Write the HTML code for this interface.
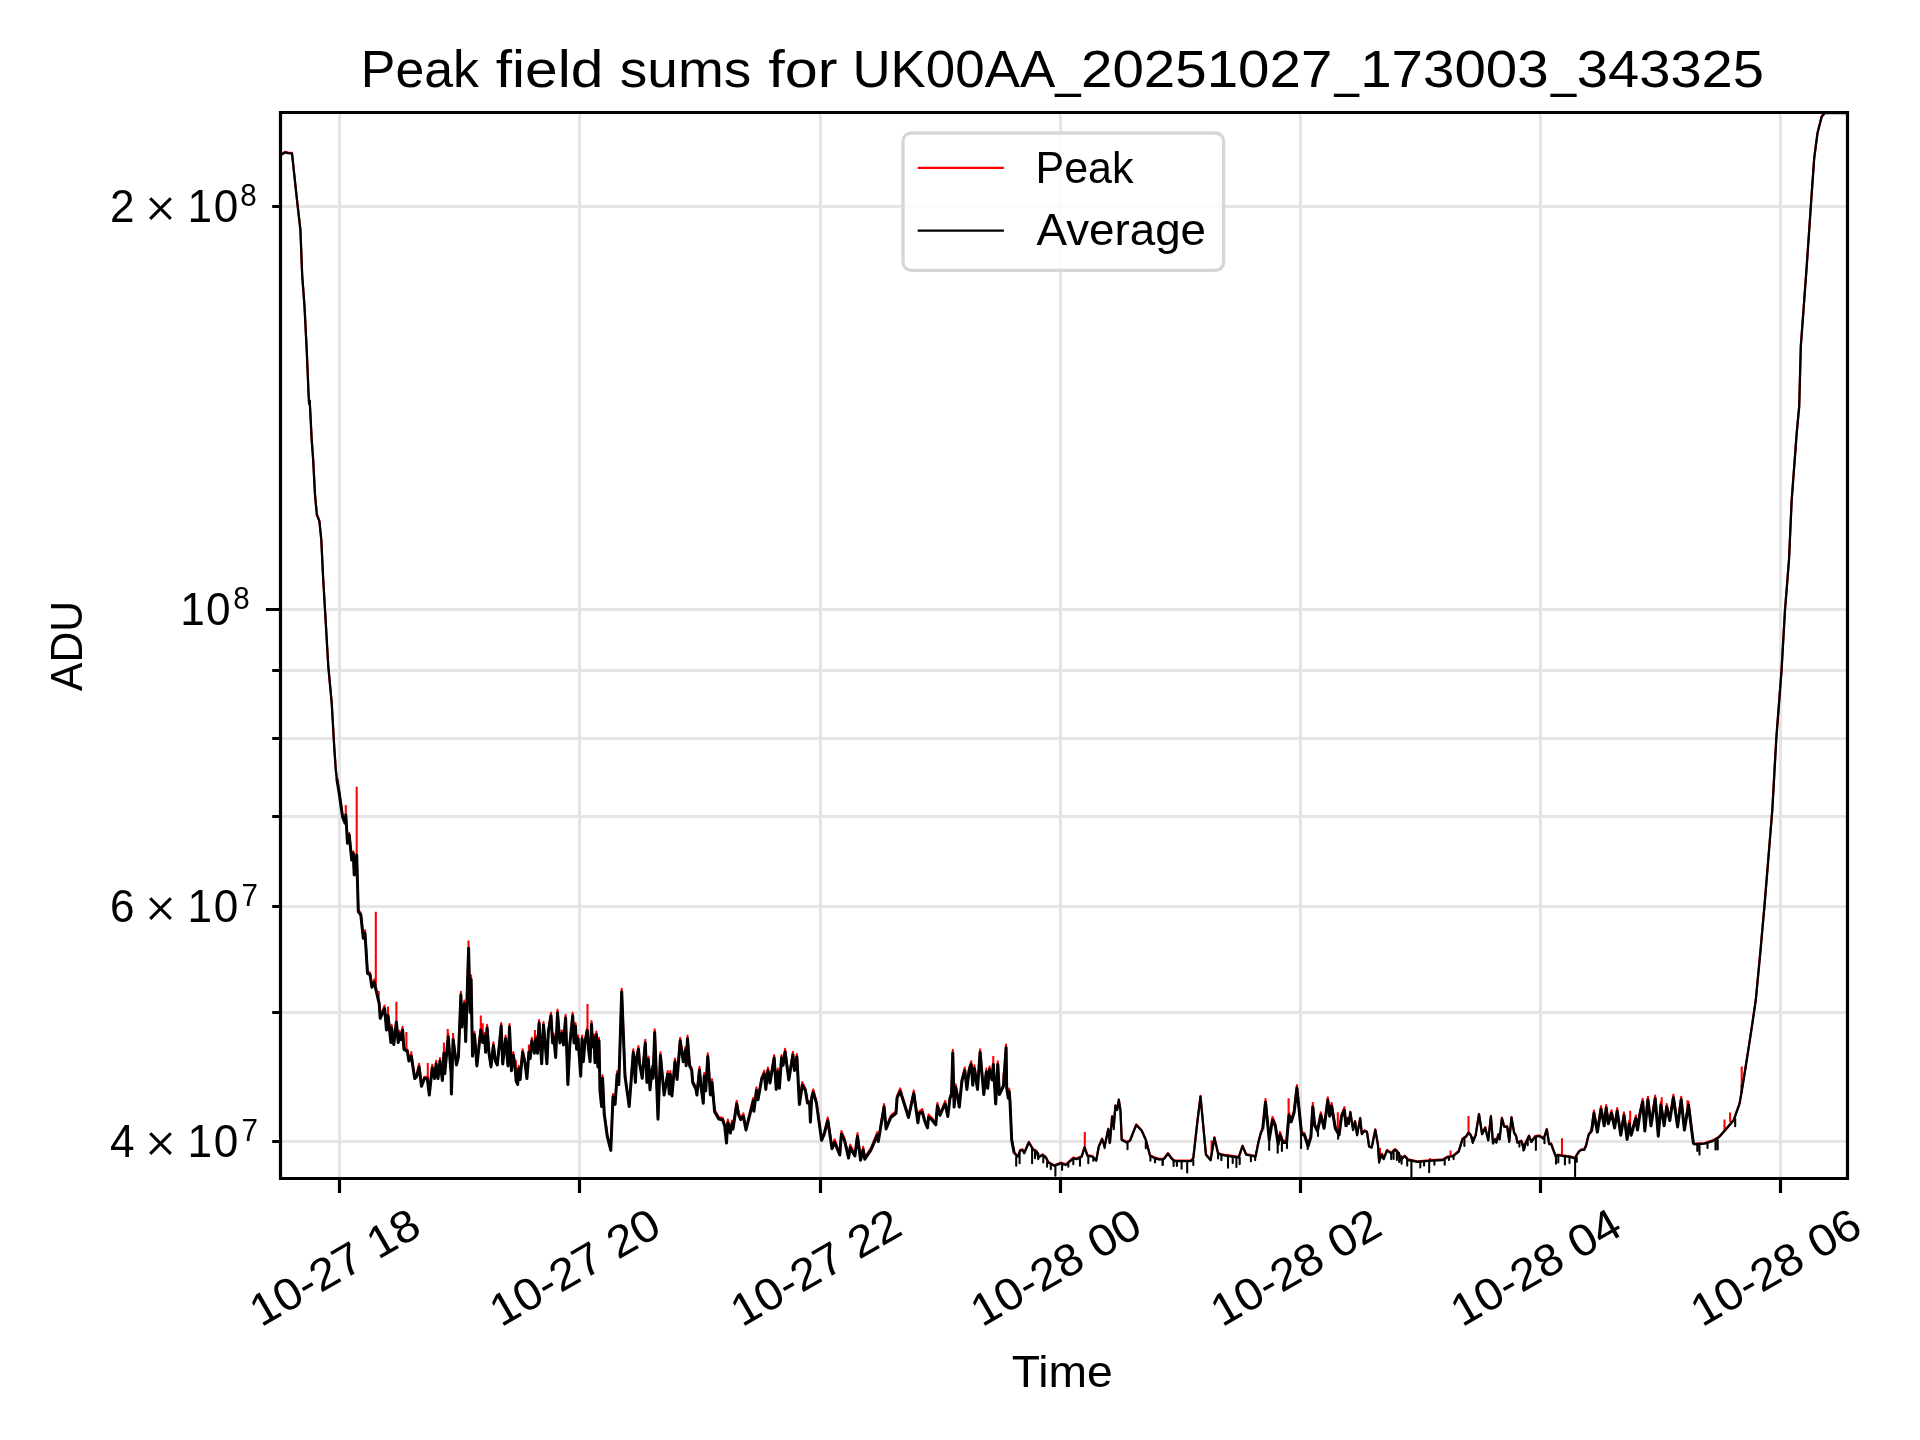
<!DOCTYPE html><html><head><meta charset="utf-8"><style>html,body{margin:0;padding:0;background:#fff;}svg{display:block;will-change:transform;}text{font-family:"Liberation Sans", sans-serif;fill:#000;}</style></head><body>
<svg width="1920" height="1440" viewBox="0 0 1920 1440">
<rect x="0" y="0" width="1920" height="1440" fill="#fff"/>
<path d="M339.50 112.5V1178.5M579.50 112.5V1178.5M820.50 112.5V1178.5M1060.50 112.5V1178.5M1300.50 112.5V1178.5M1540.50 112.5V1178.5M1780.50 112.5V1178.5M280.5 206.50H1847.5M280.5 609.50H1847.5M280.5 670.50H1847.5M280.5 738.50H1847.5M280.5 816.50H1847.5M280.5 906.50H1847.5M280.5 1012.50H1847.5M280.5 1141.50H1847.5" stroke="#e5e5e5" stroke-width="3.1" fill="none"/>
<path d="M339.50 1178.5v14.6M579.50 1178.5v14.6M820.50 1178.5v14.6M1060.50 1178.5v14.6M1300.50 1178.5v14.6M1540.50 1178.5v14.6M1780.50 1178.5v14.6M280.5 609.50h-14.6M280.5 206.50h-8.3M280.5 670.50h-8.3M280.5 738.50h-8.3M280.5 816.50h-8.3M280.5 906.50h-8.3M280.5 1012.50h-8.3M280.5 1141.50h-8.3" stroke="#000" stroke-width="3.2" fill="none"/>
<defs><clipPath id="ax"><rect x="280.5" y="112.5" width="1567.0" height="1066.0"/></clipPath></defs>
<g clip-path="url(#ax)">
<path d="M280.8 153.9 L283.0 153.1 L285.0 151.8 L288.0 152.5 L292.0 152.9 L297.3 202.3 L300.4 229.3 L302.2 275.1 L304.5 305.7 L306.8 351.5 L308.6 394.3 L309.1 403.3 L309.7 400.3 L311.7 439.3 L313.1 458.1 L315.0 494.3 L316.9 514.3 L319.4 520.6 L321.3 539.3 L323.1 576.8 L325.6 619.3 L328.3 666.0 L331.7 702.3 L334.2 746.0 L335.8 769.3 L336.7 776.4 L339.2 791.4 L342.5 814.8 L345.0 821.4 L345.8 813.1 L347.5 841.4 L349.2 833.1 L351.7 858.1 L353.3 851.4 L354.2 873.1 L356.7 853.1 L358.3 909.8 L360.8 913.1 L363.3 936.4 L365.0 930.2 L367.5 971.4 L370.0 972.7 L371.9 985.3 L374.4 979.3 L375.8 987.3 L379.2 1001.8 L380.2 1016.4 L384.6 1005.5 L386.5 1028.1 L388.0 1012.3 L390.9 1040.7 L391.6 1024.9 L393.8 1042.6 L396.4 1019.1 L398.2 1040.7 L399.6 1030.8 L401.1 1037.8 L402.6 1026.9 L404.0 1047.5 L407.4 1049.5 L408.9 1059.2 L411.3 1053.1 L414.7 1076.7 L416.6 1074.7 L419.1 1063.8 L421.5 1084.4 L424.4 1076.7 L427.3 1076.7 L429.3 1093.2 L432.2 1064.8 L434.6 1076.7 L436.1 1060.9 L438.0 1076.7 L440.0 1058.0 L442.4 1078.6 L443.9 1050.2 L444.8 1071.8 L448.2 1033.7 L451.1 1071.8 L451.4 1092.2 L453.1 1036.6 L456.5 1063.1 L458.4 1055.3 L460.9 991.9 L461.8 1025.2 L464.3 1000.6 L465.7 1039.7 L468.6 945.2 L470.1 1010.6 L471.1 976.3 L472.5 1054.3 L474.5 1031.7 L476.9 1064.0 L480.8 1026.9 L482.7 1040.7 L484.7 1032.7 L485.6 1050.4 L487.1 1024.9 L489.0 1051.4 L491.0 1065.0 L493.4 1042.4 L495.4 1059.2 L497.3 1063.1 L499.3 1043.6 L501.2 1023.0 L502.7 1062.1 L505.6 1035.6 L508.0 1064.0 L509.5 1024.0 L511.4 1068.9 L513.3 1052.1 L514.8 1063.1 L516.3 1079.6 L517.7 1082.5 L518.7 1065.7 L520.1 1077.6 L522.6 1049.2 L525.0 1061.1 L526.9 1076.7 L528.9 1050.4 L529.2 1049.2 L530.2 1056.6 L531.8 1037.7 L534.4 1051.4 L535.9 1035.6 L537.5 1051.4 L539.1 1020.0 L541.7 1061.8 L543.5 1022.1 L546.9 1061.8 L548.4 1029.6 L551.0 1012.7 L552.6 1041.0 L553.6 1033.6 L555.7 1055.6 L557.5 1009.6 L559.9 1041.0 L562.0 1030.4 L563.5 1043.1 L565.6 1014.8 L567.9 1082.7 L569.8 1043.1 L572.7 1012.7 L574.0 1041.0 L575.5 1023.1 L576.6 1047.3 L578.1 1035.6 L580.7 1074.3 L582.1 1035.6 L583.3 1059.8 L584.9 1041.0 L587.3 1027.3 L588.5 1047.3 L590.1 1059.8 L591.5 1021.1 L592.7 1045.2 L594.0 1034.6 L595.0 1060.8 L596.4 1031.5 L597.9 1065.0 L599.0 1037.7 L600.0 1088.9 L601.6 1104.6 L602.6 1075.2 L604.2 1111.8 L607.3 1134.8 L610.8 1148.5 L613.0 1094.0 L615.1 1102.5 L617.2 1071.1 L618.8 1082.7 L621.7 988.8 L625.0 1074.3 L629.2 1104.6 L633.3 1049.2 L635.4 1080.6 L636.5 1056.6 L638.5 1046.1 L639.6 1061.8 L642.2 1076.4 L645.3 1039.8 L646.9 1080.6 L648.4 1056.5 L650.0 1087.9 L652.1 1065.9 L653.1 1076.4 L654.7 1029.4 L658.0 1117.3 L660.4 1052.3 L664.1 1093.1 L667.7 1071.1 L669.3 1092.1 L670.3 1071.1 L671.9 1094.1 L675.0 1058.6 L677.1 1077.5 L680.2 1037.7 L683.3 1059.8 L685.4 1047.1 L686.2 1063.9 L687.5 1035.6 L689.6 1063.9 L691.7 1068.1 L692.7 1080.6 L695.8 1086.8 L696.9 1093.1 L699.5 1066.9 L701.0 1084.8 L703.3 1101.4 L704.2 1073.1 L705.7 1088.9 L707.8 1053.4 L710.4 1093.1 L712.0 1079.4 L714.6 1109.8 L718.8 1117.1 L722.9 1118.1 L723.1 1119.8 L724.7 1123.9 L726.5 1141.1 L727.8 1119.6 L730.4 1131.2 L732.0 1120.6 L733.0 1127.1 L736.7 1100.9 L738.8 1113.5 L740.8 1117.7 L743.4 1113.4 L746.0 1128.1 L753.3 1097.7 L753.9 1109.3 L756.5 1087.3 L758.0 1097.9 L761.7 1077.1 L764.3 1070.6 L765.8 1087.5 L767.9 1067.5 L770.0 1081.2 L774.2 1055.0 L776.2 1087.5 L777.8 1068.6 L779.4 1086.4 L781.5 1055.0 L783.0 1063.5 L785.1 1048.8 L788.8 1078.1 L792.9 1051.9 L794.5 1068.7 L796.9 1054.0 L799.4 1102.6 L802.3 1082.1 L805.4 1088.5 L807.5 1101.0 L809.6 1101.0 L810.4 1120.3 L811.7 1095.8 L813.2 1089.4 L816.4 1101.0 L821.6 1138.5 L824.2 1132.3 L827.8 1117.5 L832.0 1146.8 L834.6 1139.4 L839.8 1153.1 L841.4 1131.1 L844.5 1138.5 L848.6 1156.2 L850.2 1144.6 L854.9 1154.1 L857.5 1133.1 L860.6 1158.3 L863.2 1146.7 L864.8 1157.3 L871.0 1147.9 L877.3 1132.1 L878.3 1139.6 L884.1 1104.0 L886.1 1127.1 L890.8 1115.6 L896.0 1111.4 L897.1 1095.8 L900.2 1088.4 L902.3 1095.8 L908.5 1115.6 L913.8 1090.4 L917.9 1120.8 L919.2 1111.4 L922.3 1109.2 L924.9 1119.8 L927.5 1126.0 L928.5 1114.4 L931.7 1117.7 L935.8 1122.9 L937.4 1102.9 L940.0 1113.5 L942.6 1107.3 L945.2 1100.9 L947.8 1114.6 L949.9 1096.8 L951.5 1092.7 L952.8 1049.8 L954.1 1105.2 L955.6 1084.2 L957.2 1092.7 L959.3 1105.2 L961.9 1079.1 L964.8 1067.5 L966.9 1087.5 L969.2 1067.7 L971.2 1061.3 L972.8 1083.3 L974.4 1065.4 L977.5 1087.5 L980.1 1049.3 L983.8 1092.7 L986.4 1068.6 L987.7 1086.4 L989.5 1066.5 L992.1 1078.1 L993.3 1061.3 L995.7 1102.1 L997.8 1061.3 L999.4 1092.7 L1003.5 1084.3 L1006.1 1044.6 L1006.7 1086.4 L1008.3 1096.4 L1009.2 1088.6 L1010.0 1099.8 L1011.7 1138.1 L1014.2 1152.6 L1018.3 1156.0 L1020.0 1150.1 L1022.5 1149.3 L1024.2 1152.6 L1028.8 1141.8 L1033.3 1149.3 L1036.7 1151.0 L1038.3 1156.8 L1042.5 1154.3 L1045.8 1156.8 L1048.3 1161.8 L1054.2 1165.1 L1060.8 1162.6 L1065.8 1164.3 L1073.3 1157.6 L1076.7 1158.5 L1081.7 1156.0 L1084.6 1146.8 L1087.5 1155.1 L1092.5 1156.0 L1096.2 1160.1 L1098.8 1146.0 L1102.1 1138.5 L1104.6 1146.0 L1108.3 1128.5 L1110.0 1141.8 L1112.1 1116.0 L1113.8 1126.0 L1115.4 1105.1 L1117.1 1109.3 L1118.8 1099.3 L1120.4 1109.3 L1121.7 1139.3 L1126.7 1141.8 L1130.0 1140.1 L1136.2 1124.3 L1141.7 1130.1 L1145.8 1139.3 L1150.0 1155.1 L1155.0 1157.6 L1159.9 1158.9 L1160.0 1158.7 L1163.7 1158.7 L1168.0 1153.0 L1172.2 1158.7 L1175.0 1160.5 L1190.9 1160.5 L1193.3 1157.7 L1197.5 1120.2 L1200.5 1095.9 L1204.1 1134.3 L1205.9 1154.0 L1210.6 1159.6 L1214.4 1137.1 L1218.1 1153.0 L1220.9 1154.0 L1225.6 1154.9 L1238.7 1156.8 L1242.5 1145.5 L1246.2 1154.0 L1255.6 1155.9 L1258.4 1141.8 L1260.8 1132.4 L1262.7 1127.5 L1265.5 1099.1 L1269.2 1137.8 L1272.5 1116.9 L1275.3 1123.7 L1278.1 1142.5 L1280.0 1131.9 L1282.8 1140.6 L1286.6 1140.6 L1288.9 1112.2 L1291.2 1120.0 L1294.1 1110.6 L1296.9 1085.0 L1301.6 1132.2 L1304.4 1133.1 L1308.1 1144.3 L1310.9 1135.0 L1312.8 1103.8 L1314.7 1123.7 L1317.5 1129.3 L1320.8 1112.2 L1324.1 1126.5 L1327.8 1097.2 L1329.7 1114.3 L1331.6 1102.8 L1335.3 1126.5 L1339.1 1133.1 L1341.5 1114.6 L1344.4 1107.1 L1346.1 1126.2 L1347.7 1117.8 L1348.8 1123.0 L1350.3 1111.6 L1353.1 1129.3 L1355.0 1121.0 L1357.1 1134.5 L1360.2 1117.8 L1361.8 1133.5 L1364.4 1130.3 L1367.0 1131.4 L1369.1 1146.0 L1371.7 1147.0 L1375.3 1129.3 L1377.9 1143.9 L1378.1 1146.2 L1379.1 1161.2 L1381.9 1153.7 L1383.7 1158.4 L1387.0 1149.9 L1391.2 1152.7 L1395.0 1149.0 L1398.7 1152.7 L1400.6 1159.3 L1404.8 1155.5 L1408.1 1159.3 L1417.5 1161.2 L1428.7 1160.2 L1442.8 1159.3 L1447.5 1156.5 L1453.1 1155.5 L1458.7 1150.9 L1462.5 1138.7 L1466.2 1135.9 L1468.6 1132.1 L1470.9 1134.9 L1472.8 1141.5 L1475.6 1134.9 L1479.0 1113.7 L1482.1 1133.5 L1485.2 1127.2 L1488.3 1139.7 L1490.9 1115.8 L1493.0 1142.8 L1495.0 1138.7 L1496.3 1142.0 L1498.3 1134.0 L1499.6 1138.7 L1501.9 1117.6 L1504.2 1126.1 L1507.2 1126.1 L1509.2 1140.6 L1511.5 1116.9 L1514.1 1132.1 L1516.1 1135.4 L1517.4 1142.0 L1521.4 1140.6 L1524.0 1149.2 L1525.3 1143.3 L1529.0 1135.4 L1531.3 1141.3 L1535.2 1136.0 L1539.2 1135.4 L1543.8 1138.0 L1546.8 1128.8 L1549.1 1143.3 L1551.1 1143.3 L1555.7 1155.8 L1557.7 1154.5 L1562.3 1155.2 L1570.9 1156.5 L1574.8 1157.8 L1578.8 1151.2 L1581.4 1149.2 L1584.1 1149.2 L1586.0 1145.3 L1588.7 1134.0 L1591.6 1129.6 L1593.9 1110.5 L1597.4 1130.2 L1601.0 1106.1 L1604.2 1123.9 L1606.2 1105.0 L1608.3 1121.8 L1611.5 1110.2 L1614.6 1126.0 L1617.2 1108.1 L1620.8 1133.3 L1624.0 1112.3 L1627.1 1137.5 L1629.2 1120.6 L1631.2 1133.3 L1635.9 1115.4 L1637.5 1128.1 L1640.1 1111.4 L1642.7 1098.8 L1644.8 1129.1 L1647.9 1096.7 L1651.0 1123.9 L1655.2 1095.6 L1658.3 1134.3 L1660.9 1101.9 L1664.1 1123.9 L1666.7 1104.0 L1669.8 1118.7 L1673.4 1094.6 L1677.6 1125.0 L1681.2 1096.7 L1684.4 1128.1 L1688.5 1101.9 L1691.5 1127.2 L1693.6 1143.7 L1698.7 1143.3 L1704.6 1143.0 L1713.3 1140.1 L1719.2 1136.4 L1725.0 1129.9 L1733.7 1119.6 L1739.6 1102.9 L1742.5 1086.1 L1746.9 1058.4 L1751.2 1030.7 L1755.8 999.3 L1760.3 952.1 L1764.4 906.2 L1768.6 854.9 L1772.3 809.3 L1776.3 738.1 L1781.5 670.4 L1785.0 609.6 L1789.0 559.3 L1791.7 499.3 L1796.7 432.6 L1799.2 406.0 L1800.8 346.0 L1806.7 266.0 L1810.8 206.0 L1814.2 157.6 L1817.5 132.6 L1821.7 116.0 L1825.0 112.3 L1829.0 112.3 L1850.0 112.3M345.8 805.0V818.0M356.7 786.7V855.0M375.8 911.7V985.0M396.4 1001.8V1022.0M406.4 1031.9V1049.0M427.8 1063.0V1078.0M468.5 940.4V950.0M587.5 1003.9V1030.0M534.9 1029.9V1045.0M1084.8 1132.1V1148.0M993.3 1056.0V1065.0M1003.5 1072.7V1085.0M1288.6 1098.2V1115.0M1211.6 1140.4V1155.0M1468.5 1116.0V1135.0M1312.8 1101.9V1112.0M1337.8 1112.3V1132.0M1450.6 1150.6V1157.0M1380.0 1148.0V1160.0M1562.0 1138.3V1155.0M1630.2 1110.7V1125.0M1661.7 1097.2V1110.0M1687.5 1100.3V1108.0M1724.5 1119.6V1130.0M1730.1 1112.6V1122.0M1741.7 1066.6V1090.0M388.0 1006.6V1015.0M480.8 1015.4V1030.0M482.7 1023.2V1040.0M528.9 1044.5V1052.0M447.7 1029.0V1037.0M453.1 1032.9V1040.0M443.9 1042.6V1053.0M515.8 1060.1V1081.0M471.1 974.6V980.0M411.3 1051.3V1056.0M378.7 991.0V1000.0M1430.2 1158.0V1161.0" stroke="#ff0000" stroke-width="2.08" fill="none" stroke-linejoin="round"/>
<path d="M280.8 154.6 L283.0 153.8 L285.0 152.5 L288.0 153.2 L292.0 153.6 L297.3 203.0 L300.4 230.0 L302.2 275.8 L304.5 306.4 L306.8 352.2 L308.6 395.0 L309.1 404.0 L309.7 401.0 L311.7 440.0 L313.1 458.8 L315.0 495.0 L316.9 515.0 L319.4 521.3 L321.3 540.0 L323.1 577.5 L325.6 620.0 L328.3 666.7 L331.7 703.0 L334.2 746.7 L335.8 770.0 L336.7 778.3" stroke="#000" stroke-width="2.3" fill="none" stroke-linejoin="round"/>
<path d="M336.7 778.3 L339.2 793.3 L342.5 816.7 L345.0 823.3 L345.8 815.0 L347.5 843.3 L349.2 835.0 L351.7 860.0 L353.3 853.3 L354.2 875.0 L356.7 855.0 L358.3 911.7 L360.8 915.0 L363.3 938.3 L365.0 933.3 L367.5 973.3 L370.0 974.6 L371.9 987.2 L374.4 982.4 L375.8 989.2 L379.2 1003.7 L380.2 1018.3 L384.6 1008.6 L386.5 1030.0 L388.0 1015.4 L390.9 1042.6 L391.6 1028.0 L393.8 1044.5 L396.4 1022.2 L398.2 1042.6 L399.6 1033.9 L401.1 1039.7 L402.6 1030.0 L404.0 1049.4 L407.4 1051.4 L408.9 1061.1 L411.3 1056.2 L414.7 1078.6 L416.6 1076.6 L419.1 1066.9 L421.5 1086.3 L424.4 1078.6 L427.3 1078.6 L429.3 1095.1 L432.2 1067.9 L434.6 1078.6 L436.1 1064.0 L438.0 1078.6 L440.0 1061.1 L442.4 1080.5 L443.9 1053.3 L444.8 1073.7 L448.2 1036.8 L451.1 1073.7 L451.4 1094.1 L453.1 1039.7 L456.5 1065.0 L458.4 1057.2 L460.9 995.0 L461.8 1027.1 L464.3 1003.7 L465.7 1041.6 L468.6 948.3 L470.1 1012.5 L471.1 979.4 L472.5 1056.2 L474.5 1034.8 L476.9 1065.9 L480.8 1030.0 L482.7 1042.6 L484.7 1035.8 L485.6 1052.3 L487.1 1028.0 L489.0 1053.3 L491.0 1066.9 L493.4 1045.5 L495.4 1061.1 L497.3 1065.0 L499.3 1045.5 L501.2 1026.1 L502.7 1064.0 L505.6 1038.7 L508.0 1065.9 L509.5 1027.1 L511.4 1070.8 L513.3 1055.2 L514.8 1065.0 L516.3 1081.5 L517.7 1084.4 L518.7 1068.8 L520.1 1079.5 L522.6 1052.3 L525.0 1063.0 L526.9 1078.6 L528.9 1052.3 L529.2 1052.3 L530.2 1058.5 L531.8 1040.8 L534.4 1053.3 L535.9 1038.8 L537.5 1053.3 L539.1 1023.1 L541.7 1063.8 L543.5 1025.2 L546.9 1063.8 L548.4 1031.5 L551.0 1015.8 L552.6 1042.9 L553.6 1036.7 L555.7 1057.5 L557.5 1012.7 L559.9 1042.9 L562.0 1033.5 L563.5 1045.0 L565.6 1017.9 L567.9 1084.6 L569.8 1045.0 L572.7 1015.8 L574.0 1042.9 L575.5 1026.2 L576.6 1049.2 L578.1 1038.8 L580.7 1076.2 L582.1 1038.8 L583.3 1061.7 L584.9 1042.9 L587.3 1030.4 L588.5 1049.2 L590.1 1061.7 L591.5 1024.2 L592.7 1047.1 L594.0 1037.7 L595.0 1062.7 L596.4 1034.6 L597.9 1066.9 L599.0 1040.8 L600.0 1090.8 L601.6 1106.5 L602.6 1078.3 L604.2 1113.8 L607.3 1136.7 L610.8 1150.4 L613.0 1097.1 L615.1 1104.4 L617.2 1074.2 L618.8 1084.6 L621.7 991.9 L625.0 1076.2 L629.2 1106.5 L633.3 1052.3 L635.4 1082.5 L636.5 1058.5 L638.5 1049.2 L639.6 1063.8 L642.2 1078.3 L645.3 1042.9 L646.9 1082.5 L648.4 1059.6 L650.0 1089.8 L652.1 1069.0 L653.1 1078.3 L654.7 1032.5 L658.0 1119.2 L660.4 1055.4 L664.1 1095.0 L667.7 1074.2 L669.3 1094.0 L670.3 1074.2 L671.9 1096.0 L675.0 1061.7 L677.1 1079.4 L680.2 1040.8 L683.3 1061.7 L685.4 1050.2 L686.2 1065.8 L687.5 1038.8 L689.6 1065.8 L691.7 1070.0 L692.7 1082.5 L695.8 1088.8 L696.9 1095.0 L699.5 1070.0 L701.0 1086.7 L703.3 1103.3 L704.2 1076.2 L705.7 1090.8 L707.8 1056.5 L710.4 1095.0 L712.0 1082.5 L714.6 1111.7 L718.8 1119.0 L722.9 1120.0 L723.1 1121.7 L724.7 1125.8 L726.5 1143.0 L727.8 1122.7 L730.4 1133.1 L732.0 1123.8 L733.0 1129.0 L736.7 1104.0 L738.8 1115.4 L740.8 1119.6 L743.4 1116.5 L746.0 1130.0 L753.3 1100.8 L753.9 1111.2 L756.5 1090.4 L758.0 1099.8 L761.7 1079.0 L764.3 1073.8 L765.8 1089.4 L767.9 1070.6 L770.0 1083.1 L774.2 1058.1 L776.2 1089.4 L777.8 1071.7 L779.4 1088.3 L781.5 1058.1 L783.0 1065.4 L785.1 1051.9 L788.8 1080.0 L792.9 1055.0 L794.5 1070.6 L796.9 1057.1 L799.4 1104.5 L802.3 1085.2 L805.4 1090.4 L807.5 1102.9 L809.6 1102.9 L810.4 1122.2 L811.7 1097.7 L813.2 1092.5 L816.4 1102.9 L821.6 1140.4 L824.2 1134.2 L827.8 1120.6 L832.0 1148.8 L834.6 1142.5 L839.8 1155.0 L841.4 1134.2 L844.5 1140.4 L848.6 1158.1 L850.2 1147.7 L854.9 1156.0 L857.5 1136.2 L860.6 1160.2 L863.2 1149.8 L864.8 1159.2 L871.0 1149.8 L877.3 1135.2 L878.3 1141.5 L884.1 1107.1 L886.1 1129.0 L890.8 1117.5 L896.0 1113.3 L897.1 1097.7 L900.2 1091.5 L902.3 1097.7 L908.5 1117.5 L913.8 1093.5 L917.9 1122.7 L919.2 1113.3 L922.3 1112.3 L924.9 1121.7 L927.5 1127.9 L928.5 1117.5 L931.7 1119.6 L935.8 1124.8 L937.4 1106.0 L940.0 1115.4 L942.6 1109.2 L945.2 1104.0 L947.8 1116.5 L949.9 1098.8 L951.5 1094.6 L952.8 1052.9 L954.1 1107.1 L955.6 1087.3 L957.2 1094.6 L959.3 1107.1 L961.9 1081.0 L964.8 1070.6 L966.9 1089.4 L969.2 1069.6 L971.2 1064.4 L972.8 1085.2 L974.4 1068.5 L977.5 1089.4 L980.1 1052.4 L983.8 1094.6 L986.4 1071.7 L987.7 1088.3 L989.5 1069.6 L992.1 1080.0 L993.3 1064.4 L995.7 1104.0 L997.8 1064.4 L999.4 1094.6 L1003.5 1086.2 L1006.1 1047.7 L1006.7 1088.3 L1008.3 1098.3 L1009.2 1091.7 L1010.0 1101.7 L1011.7 1140.0 L1014.2 1153.3" stroke="#000" stroke-width="3.0" fill="none" stroke-linejoin="round"/>
<path d="M1014.2 1153.3 L1018.3 1156.7 L1020.0 1150.8 L1022.5 1150.0 L1024.2 1153.3 L1028.8 1142.5 L1033.3 1150.0 L1036.7 1151.7 L1038.3 1157.5 L1042.5 1155.0 L1045.8 1157.5 L1048.3 1162.5 L1054.2 1165.8 L1060.8 1163.3 L1065.8 1165.0 L1073.3 1158.3 L1076.7 1159.2 L1081.7 1156.7 L1084.6 1147.5 L1087.5 1155.8 L1092.5 1156.7 L1096.2 1160.8 L1098.8 1146.7 L1102.1 1139.2 L1104.6 1146.7 L1108.3 1129.2 L1110.0 1142.5 L1112.1 1116.7 L1113.8 1126.7 L1115.4 1105.8 L1117.1 1110.0 L1118.8 1100.0 L1120.4 1110.0 L1121.7 1140.0 L1126.7 1142.5 L1130.0 1140.8 L1136.2 1125.0 L1141.7 1130.8 L1145.8 1140.0 L1150.0 1155.8 L1155.0 1158.3 L1159.9 1159.6 L1160.0 1159.4 L1163.7 1159.4 L1168.0 1153.7 L1172.2 1159.4 L1175.0 1161.2 L1190.9 1161.2 L1193.3 1158.4 L1197.5 1120.9 L1200.5 1096.6 L1204.1 1135.0 L1205.9 1154.7 L1210.6 1160.3 L1214.4 1137.8 L1218.1 1153.7 L1220.9 1154.7 L1225.6 1155.6 L1238.7 1157.5 L1242.5 1146.2 L1246.2 1154.7 L1255.6 1156.6 L1258.4 1142.5 L1260.8 1133.1 L1262.7 1129.4" stroke="#000" stroke-width="2.3" fill="none" stroke-linejoin="round"/>
<path d="M1262.7 1129.4 L1265.5 1102.2 L1269.2 1139.7 L1272.5 1120.0 L1275.3 1125.6 L1278.1 1144.4 L1280.0 1135.0 L1282.8 1142.5 L1286.6 1142.5 L1288.9 1115.3 L1291.2 1121.9 L1294.1 1112.5 L1296.9 1088.1 L1301.6 1134.1 L1304.4 1135.0 L1308.1 1146.2 L1310.9 1136.9 L1312.8 1106.9 L1314.7 1125.6 L1317.5 1131.2 L1320.8 1115.3 L1324.1 1128.4 L1327.8 1100.3 L1329.7 1116.2 L1331.6 1105.9 L1335.3 1128.4 L1339.1 1135.0 L1341.5 1116.5 L1344.4 1110.2 L1346.1 1126.9" stroke="#000" stroke-width="3.0" fill="none" stroke-linejoin="round"/>
<path d="M1346.1 1126.9 L1347.7 1118.5 L1348.8 1123.8 L1350.3 1112.3 L1353.1 1130.0 L1355.0 1121.7 L1357.1 1135.2 L1360.2 1118.5 L1361.8 1134.2 L1364.4 1131.0 L1367.0 1132.1 L1369.1 1146.7 L1371.7 1147.7 L1375.3 1130.0 L1377.9 1144.6 L1378.1 1146.9 L1379.1 1161.9 L1381.9 1154.4 L1383.7 1159.1 L1387.0 1150.6 L1391.2 1153.4 L1395.0 1149.7 L1398.7 1153.4 L1400.6 1160.0 L1404.8 1156.2 L1408.1 1160.0 L1417.5 1161.9 L1428.7 1160.9 L1442.8 1160.0 L1447.5 1157.2 L1453.1 1156.2 L1458.7 1151.6 L1462.5 1139.4 L1466.2 1136.6 L1468.6 1132.8 L1470.9 1135.6 L1472.8 1142.2 L1475.6 1135.6 L1479.0 1114.4 L1482.1 1134.2 L1485.2 1127.9 L1488.3 1140.4 L1490.9 1116.5 L1493.0 1143.5 L1495.0 1139.4 L1496.3 1142.7 L1498.3 1134.7 L1499.6 1139.4 L1501.9 1118.3 L1504.2 1126.8 L1507.2 1126.8 L1509.2 1141.3 L1511.5 1117.6 L1514.1 1132.8 L1516.1 1136.1 L1517.4 1142.7 L1521.4 1141.3 L1524.0 1149.9 L1525.3 1144.0 L1529.0 1136.1 L1531.3 1142.0 L1535.2 1136.7 L1539.2 1136.1 L1543.8 1138.7 L1546.8 1129.5 L1549.1 1144.0 L1551.1 1144.0 L1555.7 1156.5 L1557.7 1155.2 L1562.3 1155.9 L1570.9 1157.2 L1574.8 1158.5 L1578.8 1151.9 L1581.4 1149.9 L1584.1 1149.9 L1586.0 1146.0 L1588.7 1134.7 L1591.6 1131.5" stroke="#000" stroke-width="2.3" fill="none" stroke-linejoin="round"/>
<path d="M1591.6 1131.5 L1593.9 1113.6 L1597.4 1132.1 L1601.0 1109.2 L1604.2 1125.8 L1606.2 1108.1 L1608.3 1123.8 L1611.5 1113.3 L1614.6 1127.9 L1617.2 1111.2 L1620.8 1135.2 L1624.0 1115.4 L1627.1 1139.4 L1629.2 1123.8 L1631.2 1135.2 L1635.9 1118.5 L1637.5 1130.0 L1640.1 1113.3 L1642.7 1101.9 L1644.8 1131.0 L1647.9 1099.8 L1651.0 1125.8 L1655.2 1098.8 L1658.3 1136.2 L1660.9 1105.0 L1664.1 1125.8 L1666.7 1107.1 L1669.8 1120.6 L1673.4 1097.7 L1677.6 1126.9 L1681.2 1099.8 L1684.4 1130.0 L1688.5 1105.0 L1691.5 1129.1 L1693.6 1144.4" stroke="#000" stroke-width="3.0" fill="none" stroke-linejoin="round"/>
<path d="M1693.6 1144.4 L1698.7 1144.0 L1704.6 1143.7 L1713.3 1140.8 L1719.2 1137.1 L1725.0 1130.6 L1733.7 1120.3 L1739.6 1103.6 L1742.5 1086.8 L1746.9 1059.1 L1751.2 1031.4 L1755.8 1000.0 L1760.3 952.8 L1764.4 906.9 L1768.6 855.6 L1772.3 810.0 L1776.3 738.8 L1781.5 671.1 L1785.0 610.3 L1789.0 560.0 L1791.7 500.0 L1796.7 433.3 L1799.2 406.7 L1800.8 346.7 L1806.7 266.7 L1810.8 206.7 L1814.2 158.3 L1817.5 133.3 L1821.7 116.7 L1825.0 113.0 L1829.0 113.0 L1850.0 113.0" stroke="#000" stroke-width="2.3" fill="none" stroke-linejoin="round"/>
<path d="M1162.8 1159.4V1165.0M1173.6 1160.3V1165.9M1176.9 1161.2V1165.9M1181.6 1161.2V1168.7M1187.2 1161.2V1172.5M1193.3 1160.3V1165.0M1218.1 1153.7V1158.4M1221.4 1155.6V1160.3M1228.0 1156.6V1167.8M1232.7 1157.5V1163.1M1236.4 1157.5V1166.9M1239.7 1157.5V1164.1M1250.9 1156.6V1161.2M1255.2 1156.6V1160.3M1269.2 1139.7V1150.0M1277.7 1144.4V1152.8M1281.9 1142.5V1150.9M1287.0 1142.5V1148.1M1301.1 1134.1V1148.1M1307.7 1146.2V1149.1M1318.0 1131.2V1135.9M1338.1 1135.0V1138.7M1016.2 1156.7V1165.8M1019.6 1153.3V1163.3M1032.1 1148.3V1163.3M1035.0 1150.0V1158.3M1038.3 1153.3V1159.2M1043.3 1155.8V1162.5M1047.1 1162.5V1166.7M1050.8 1165.0V1169.2M1055.4 1165.8V1175.8M1062.1 1164.2V1170.0M1068.3 1163.3V1166.7M1073.3 1159.2V1164.2M1080.0 1157.5V1165.8M1088.3 1156.7V1163.3M1093.3 1157.5V1160.8M1104.6 1143.3V1148.3M1109.6 1135.0V1143.3M1113.8 1123.3V1129.2M1127.5 1142.5V1149.2M1145.8 1141.7V1148.3M1150.4 1155.8V1160.8M1155.0 1158.3V1162.5M1162.5 1160.0V1165.0M1379.1 1152.5V1162.8M1391.2 1153.4V1159.1M1393.6 1150.6V1159.1M1396.9 1150.6V1160.0M1399.2 1153.4V1161.9M1401.6 1156.2V1163.7M1407.2 1159.1V1165.6M1411.4 1160.9V1176.9M1420.3 1161.9V1167.5M1424.1 1161.9V1165.6M1429.2 1160.9V1172.2M1434.4 1160.9V1164.7M1444.7 1160.0V1164.7M1448.9 1157.2V1160.0M1453.6 1156.2V1159.1M1464.4 1137.5V1145.9M1472.8 1137.5V1143.1M1509.2 1129.5V1142.0M1519.4 1142.7V1146.6M1523.4 1144.6V1150.6M1527.7 1139.4V1145.3M1535.9 1138.0V1149.9M1544.5 1138.0V1143.3M1556.0 1156.5V1163.8M1558.3 1155.9V1162.5M1564.9 1155.9V1164.4M1569.5 1156.5V1163.1M1575.1 1158.5V1176.3M1576.8 1157.8V1161.8M1697.3 1144.0V1151.0M1699.5 1144.0V1154.6M1707.5 1143.4V1148.0M1715.5 1140.8V1149.5M1717.7 1140.0V1149.5M1735.2 1118.2V1126.2M1741.7 1085.4V1091.2" stroke="#000" stroke-width="2.08" fill="none" stroke-linecap="round"/>
</g>
<path d="M280.5 1178.5V112.5H1847.5V1178.5Z" stroke="#000" stroke-width="3.2" fill="none" stroke-linejoin="miter" stroke-linecap="square"/>
<text x="360.8" y="86.9" font-size="51.5" textLength="118.2" lengthAdjust="spacingAndGlyphs" xml:space="preserve">Peak</text>
<text x="495.8" y="86.9" font-size="51.5" textLength="107.6" lengthAdjust="spacingAndGlyphs" xml:space="preserve">field</text>
<text x="619.8" y="86.9" font-size="51.5" textLength="131.4" lengthAdjust="spacingAndGlyphs" xml:space="preserve">sums</text>
<text x="768.2" y="86.9" font-size="51.5" textLength="69.2" lengthAdjust="spacingAndGlyphs" xml:space="preserve">for</text>
<text x="852.4" y="86.9" font-size="51.5" textLength="202.8" lengthAdjust="spacingAndGlyphs" xml:space="preserve">UK00AA</text>
<text x="1055.2" y="86.9" font-size="51.5" textLength="25.4" lengthAdjust="spacingAndGlyphs" xml:space="preserve">_</text>
<text x="1081.0" y="86.9" font-size="51.5" textLength="251.4" lengthAdjust="spacingAndGlyphs" xml:space="preserve">20251027</text>
<text x="1334.6" y="86.9" font-size="51.5" textLength="24.4" lengthAdjust="spacingAndGlyphs" xml:space="preserve">_</text>
<text x="1360.2" y="86.9" font-size="51.5" textLength="188.4" lengthAdjust="spacingAndGlyphs" xml:space="preserve">173003</text>
<text x="1551.0" y="86.9" font-size="51.5" textLength="25.2" lengthAdjust="spacingAndGlyphs" xml:space="preserve">_</text>
<text x="1576.8" y="86.9" font-size="51.5" textLength="187.2" lengthAdjust="spacingAndGlyphs" xml:space="preserve">343325</text>
<text x="0" y="0" font-size="45.5" text-anchor="middle" transform="translate(122.20 222.00) scale(0.97 1)">2</text>
<path d="M150.20 198.25L170.80 218.85M170.80 198.25L150.20 218.85" stroke="#000" stroke-width="3.1"/>
<text x="0" y="0" font-size="45.5" text-anchor="middle" transform="translate(199.75 222.00) scale(0.97 1)">1</text>
<text x="0" y="0" font-size="45.5" text-anchor="middle" transform="translate(226.00 222.00) scale(0.97 1)">0</text>
<text x="0" y="0" font-size="30.5" text-anchor="middle" transform="translate(248.40 206.00) scale(0.97 1)">8</text>
<text x="0" y="0" font-size="45.5" text-anchor="middle" transform="translate(122.20 922.00) scale(0.97 1)">6</text>
<path d="M150.20 898.25L170.80 918.85M170.80 898.25L150.20 918.85" stroke="#000" stroke-width="3.1"/>
<text x="0" y="0" font-size="45.5" text-anchor="middle" transform="translate(199.75 922.00) scale(0.97 1)">1</text>
<text x="0" y="0" font-size="45.5" text-anchor="middle" transform="translate(226.00 922.00) scale(0.97 1)">0</text>
<text x="0" y="0" font-size="30.5" text-anchor="middle" transform="translate(249.70 906.00) scale(0.97 1)">7</text>
<text x="0" y="0" font-size="45.5" text-anchor="middle" transform="translate(122.20 1157.00) scale(0.97 1)">4</text>
<path d="M150.20 1133.25L170.80 1153.85M170.80 1133.25L150.20 1153.85" stroke="#000" stroke-width="3.1"/>
<text x="0" y="0" font-size="45.5" text-anchor="middle" transform="translate(199.75 1157.00) scale(0.97 1)">1</text>
<text x="0" y="0" font-size="45.5" text-anchor="middle" transform="translate(226.00 1157.00) scale(0.97 1)">0</text>
<text x="0" y="0" font-size="30.5" text-anchor="middle" transform="translate(249.70 1141.00) scale(0.97 1)">7</text>
<text x="0" y="0" font-size="45.5" text-anchor="middle" transform="translate(192.50 625.20) scale(0.97 1)">1</text>
<text x="0" y="0" font-size="45.5" text-anchor="middle" transform="translate(218.25 625.20) scale(0.97 1)">0</text>
<text x="0" y="0" font-size="30.5" text-anchor="middle" transform="translate(241.50 609.40) scale(0.97 1)">8</text>
<text x="0" y="15" font-size="45.0" text-anchor="middle" textLength="188" lengthAdjust="spacingAndGlyphs" transform="translate(334.90 1267.60) rotate(-30)">10-27 18</text>
<text x="0" y="15" font-size="45.0" text-anchor="middle" textLength="188" lengthAdjust="spacingAndGlyphs" transform="translate(574.90 1267.60) rotate(-30)">10-27 20</text>
<text x="0" y="15" font-size="45.0" text-anchor="middle" textLength="188" lengthAdjust="spacingAndGlyphs" transform="translate(815.90 1267.60) rotate(-30)">10-27 22</text>
<text x="0" y="15" font-size="45.0" text-anchor="middle" textLength="188" lengthAdjust="spacingAndGlyphs" transform="translate(1055.90 1267.60) rotate(-30)">10-28 00</text>
<text x="0" y="15" font-size="45.0" text-anchor="middle" textLength="188" lengthAdjust="spacingAndGlyphs" transform="translate(1295.90 1267.60) rotate(-30)">10-28 02</text>
<text x="0" y="15" font-size="45.0" text-anchor="middle" textLength="188" lengthAdjust="spacingAndGlyphs" transform="translate(1535.90 1267.60) rotate(-30)">10-28 04</text>
<text x="0" y="15" font-size="45.0" text-anchor="middle" textLength="188" lengthAdjust="spacingAndGlyphs" transform="translate(1775.90 1267.60) rotate(-30)">10-28 06</text>
<text x="0" y="0" font-size="45.0" text-anchor="middle" textLength="90" lengthAdjust="spacingAndGlyphs" transform="translate(82 646) rotate(-90)">ADU</text>
<text x="1062.2" y="1386.7" font-size="45.0" text-anchor="middle" textLength="101" lengthAdjust="spacingAndGlyphs">Time</text>
<rect x="903" y="133" width="320.6" height="137.4" rx="8.3" ry="8.3" fill="#fff" fill-opacity="0.8" stroke="#d6d6d6" stroke-width="3.33"/>
<path d="M917.7 167.9H1003.9" stroke="#ff0000" stroke-width="2.08"/>
<path d="M917.7 230.6H1003.9" stroke="#000" stroke-width="2.08"/>
<text x="1035.5" y="183.4" font-size="45.0" textLength="98" lengthAdjust="spacingAndGlyphs">Peak</text>
<text x="1036.5" y="245.4" font-size="45.0" textLength="169.5" lengthAdjust="spacingAndGlyphs">Average</text>
</svg></body></html>
